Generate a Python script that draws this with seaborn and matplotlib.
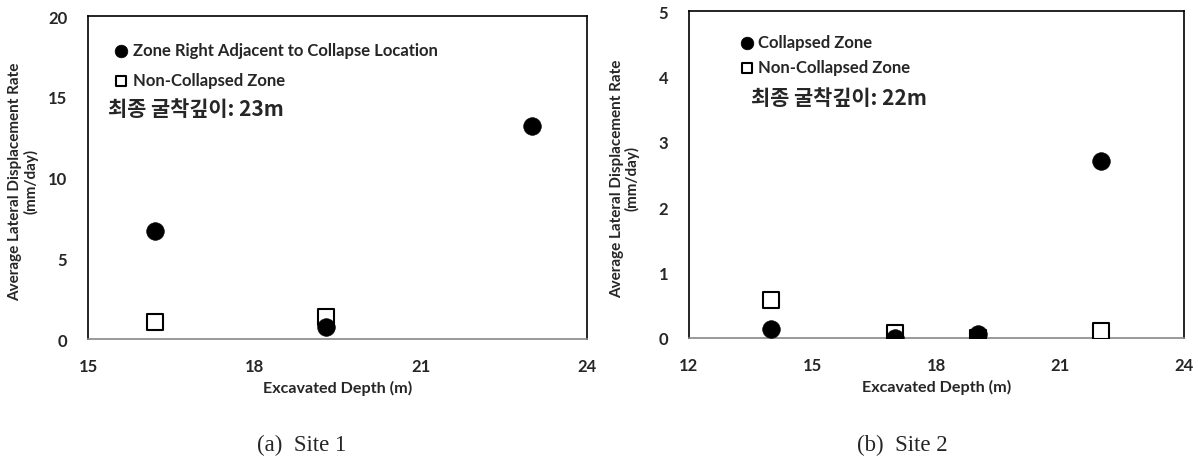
import numpy as np
import pandas as pd
import seaborn as sns
import matplotlib.pyplot as plt

# %% Datos.
sitio1_colapso_x = [16.2, 19.3, 23.0]
sitio1_colapso_y = [6.7, 0.75, 13.2]
sitio1_no_colapso_x = [16.2, 19.3]
sitio1_no_colapso_y = [1.05, 1.35]

sitio2_colapso_x = [14.0, 17.0, 19.0, 22.0]
sitio2_colapso_y = [0.14, 0.0, 0.06, 2.71]
sitio2_no_colapso_x = [14.0, 17.0, 19.0, 22.0]
sitio2_no_colapso_y = [0.58, 0.08, 0.0, 0.11]

etiquetas_sitio1 = ['Zone Right Adjacent to Collapse Location', 'Non-Collapsed Zone']
etiquetas_sitio2 = ['Collapsed Zone', 'Non-Collapsed Zone']
textos_profundidad = ['최종 굴착깊이: 23m', '최종 굴착깊이: 22m']
subtitulos = ['(a)  Site 1', '(b)  Site 2']

sns.set_style('white')
plt.rcParams['font.family'] = ['Lato', 'DejaVu Sans']

fig = plt.figure(figsize=(11.98, 4.64), dpi=100)
ax1 = fig.add_axes([0.0735, 0.2672, 0.4165, 0.696])
ax2 = fig.add_axes([0.5751, 0.2694, 0.4132, 0.7047])


def graficar_sitio(ax, cx, cy, nx, ny, etiquetas, texto, xlim, xticks, ylim, yticks,
                   leg_pos, espaciado, texto_pos):
    df_c = pd.DataFrame({'x': cx, 'y': cy})
    df_n = pd.DataFrame({'x': nx, 'y': ny})
    sns.scatterplot(data=df_n, x='x', y='y', ax=ax, marker='s', s=120, color='white',
                    edgecolor='black', linewidth=1.5, label=etiquetas[1], zorder=3)
    sns.scatterplot(data=df_c, x='x', y='y', ax=ax, marker='o', s=160, color='black',
                    edgecolor='black', linewidth=0.5, label=etiquetas[0], zorder=4)
    ax.set_xlim(*xlim)
    ax.set_ylim(*ylim)
    ax.set_xticks(xticks)
    ax.set_yticks(yticks)
    ax.set_xlabel('Excavated Depth (m)', fontsize=11.6, fontweight='bold', labelpad=4)
    ax.set_ylabel('Average Lateral Displacement Rate\n(mm/day)', fontsize=11,
                  fontweight='bold', linespacing=1.05)
    ax.yaxis.set_label_coords(-0.1, 0.49)
    ax.tick_params(axis='x', direction='out', length=4, width=1, color='#999999',
                   labelsize=12, pad=10)
    ax.tick_params(axis='y', length=0, labelsize=12, pad=15)
    for lbl in ax.get_xticklabels() + ax.get_yticklabels():
        lbl.set_fontweight('bold')
    for lado in ['top', 'left', 'right']:
        ax.spines[lado].set_color('black')
        ax.spines[lado].set_linewidth(1.2)
    ax.spines['bottom'].set_color('#888888')
    ax.spines['bottom'].set_linewidth(1.2)

    # Leyenda sin marco, con el punto primero.
    h, l = ax.get_legend_handles_labels()
    ax.legend([h[1], h[0]], [l[1], l[0]], loc='upper left', bbox_to_anchor=leg_pos,
              frameon=False, borderpad=0, borderaxespad=0, handlelength=1.0,
              handletextpad=0.2, labelspacing=espaciado, markerscale=0.72,
              prop={'size': 12, 'weight': 'bold'})
    ax.text(texto_pos[0], texto_pos[1], texto, transform=ax.transAxes, ha='left', va='center',
            fontsize=15, fontweight='bold', family=['Noto Sans CJK KR', 'DejaVu Sans'])


graficar_sitio(ax1, sitio1_colapso_x, sitio1_colapso_y, sitio1_no_colapso_x, sitio1_no_colapso_y,
               etiquetas_sitio1, textos_profundidad[0], (15, 24), [15, 18, 21, 24], (0, 20),
               [0, 5, 10, 15, 20], (0.05, 0.92), 0.85, (0.04, 0.714))
graficar_sitio(ax2, sitio2_colapso_x, sitio2_colapso_y, sitio2_no_colapso_x, sitio2_no_colapso_y,
               etiquetas_sitio2, textos_profundidad[1], (12, 24), [12, 15, 18, 21, 24], (0, 5),
               [0, 1, 2, 3, 4, 5], (0.1, 0.93), 0.55, (0.125, 0.735))

fig.text(302 / 1198, 0.041, subtitulos[0], ha='center', va='center', fontsize=16.5,
         family='Liberation Serif')
fig.text(902 / 1198, 0.041, subtitulos[1], ha='center', va='center', fontsize=16.5,
         family='Liberation Serif')

fig.savefig('out.png', dpi=100)
